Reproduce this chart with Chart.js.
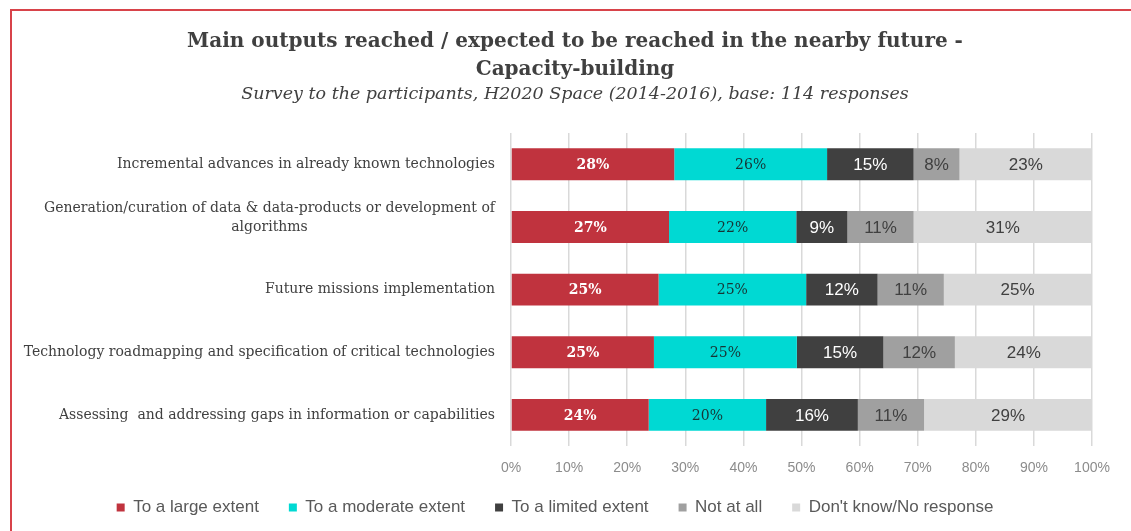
<!DOCTYPE html>
<html>
<head>
<meta charset="utf-8">
<title>Main outputs - Capacity-building</title>
<script src="https://cdn.jsdelivr.net/npm/chart.js@4.4.0/dist/chart.umd.min.js"></script>
<style>
  body { margin: 0; background: #fff; }
  #frame { position: absolute; left: 10px; top: 9px; width: 1140px; height: 540px; border: 2px solid #d8434a; }
  #wrap { position: absolute; left: 0; top: 0; width: 1131px; height: 531px; }
</style>
</head>
<body>
<div id="frame"></div>
<div id="wrap"><canvas id="myChart"></canvas></div>
<script>
// share of the 114 responses, in %
const categories = [
  ['Incremental advances in already known technologies'],
  ['Generation/curation of data & data-products or development of', 'algorithms'],
  ['Future missions implementation'],
  ['Technology roadmapping and specification of critical technologies'],
  ['Assessing  and addressing gaps in information or capabilities']
];
const largeExtent    = [28.1, 27.2, 25.4, 24.6, 23.7];
const moderateExtent = [26.3, 21.9, 25.4, 24.6, 20.2];
const limitedExtent  = [14.9,  8.8, 12.3, 14.9, 15.8];
const notAtAll       = [ 7.9, 11.4, 11.4, 12.3, 11.4];
const dontKnow       = [22.8, 30.7, 25.4, 23.7, 28.9];

const xTicks = [0, 10, 20, 30, 40, 50, 60, 70, 80, 90, 100];

const SERIF = '"DejaVu Serif", "Liberation Serif", serif';
const SANS = '"Liberation Sans", Arial, sans-serif';

const data = {
  labels: categories,
  datasets: [{
    label: 'To a large extent',
    backgroundColor: '#c0333e',
    data: largeExtent,
    valueFont: 'bold 14px ' + SERIF,
    valueColor: '#ffffff'
  },
  {
    label: 'To a moderate extent',
    backgroundColor: '#00d9d3',
    data: moderateExtent,
    valueFont: '14px ' + SERIF,
    valueColor: '#173434'
  },
  {
    label: 'To a limited extent',
    backgroundColor: '#404040',
    data: limitedExtent,
    valueFont: '17px ' + SANS,
    valueColor: '#ffffff'
  },
  {
    label: 'Not at all',
    backgroundColor: '#a0a0a0',
    data: notAtAll,
    valueFont: '17px ' + SANS,
    valueColor: '#404040'
  },
  {
    label: "Don't know/No response",
    backgroundColor: '#d9d9d9',
    data: dontKnow,
    valueFont: '17px ' + SANS,
    valueColor: '#404040'
  }]
};

// percentage written in the middle of each segment
const segmentLabels = {
  id: 'segmentLabels',
  afterDatasetsDraw(chart) {
    const ctx = chart.ctx;
    ctx.save();
    ctx.textAlign = 'center';
    ctx.textBaseline = 'middle';
    chart.data.datasets.forEach((ds, i) => {
      chart.getDatasetMeta(i).data.forEach((bar, j) => {
        ctx.font = ds.valueFont;
        ctx.fillStyle = ds.valueColor;
        ctx.fillText(Math.round(ds.data[j]) + '%', (bar.x + bar.base) / 2, bar.y + 1);
      });
    });
    ctx.restore();
  }
};

// category names: right aligned block, lines centred inside it
const categoryLabels = {
  id: 'categoryLabels',
  afterDraw(chart) {
    const ctx = chart.ctx;
    const y = chart.scales.y;
    const right = chart.chartArea.left - 16;
    ctx.save();
    ctx.font = '14px ' + SERIF;
    ctx.fillStyle = '#404040';
    ctx.textAlign = 'center';
    ctx.textBaseline = 'middle';
    categories.forEach((lines, i) => {
      const w = Math.max(...lines.map(l => ctx.measureText(l).width));
      const cy = y.getPixelForValue(i);
      lines.forEach((l, k) => {
        ctx.fillText(l, right - w / 2, cy - (lines.length - 1 - k) * 19);
      });
    });
    ctx.restore();
  }
};

// legend sits a little left of the titles and tucked up under the axis
const legendShift = {
  id: 'legendShift',
  afterLayout(chart) {
    const lg = chart.legend;
    lg.left -= 20;
    lg.right -= 20;
    lg.top -= 22;
    lg.bottom -= 22;
  }
};

const config = {
  type: 'bar',
  data: data,
  plugins: [segmentLabels, categoryLabels, legendShift],
  options: {
    indexAxis: 'y',
    responsive: true,
    maintainAspectRatio: false,
    animation: false,
    barPercentage: 0.51,
    categoryPercentage: 1,
    layout: { padding: { left: 58, right: 39, top: 0, bottom: -17 } },
    plugins: {
      title: {
        display: true,
        text: ['Main outputs reached / expected to be reached in the nearby future -', 'Capacity-building'],
        color: '#404040',
        font: { family: SERIF, size: 20, weight: 'bold', lineHeight: 1.4 },
        padding: { top: 28, bottom: 0 }
      },
      subtitle: {
        display: true,
        text: 'Survey to the participants, H2020 Space (2014-2016), base: 114 responses',
        color: '#404040',
        font: { family: SERIF, size: 17.5, style: 'italic', lineHeight: 1.143 },
        padding: { top: 0, bottom: 29 }
      },
      legend: {
        position: 'bottom',
        labels: {
          boxWidth: 8,
          boxHeight: 8,
          padding: 30,
          color: '#595959',
          font: { family: SANS, size: 17 }
        }
      },
      tooltip: { enabled: false }
    },
    scales: {
      x: {
        stacked: true,
        min: 0,
        max: 100,
        afterBuildTicks(scale) {
          scale.ticks = xTicks.map(v => ({ value: v }));
        },
        ticks: {
          padding: 14,
          color: '#8c8c8c',
          font: { family: SANS, size: 14 },
          callback: function(value) {
            return value + '%';
          }
        },
        grid: { color: '#d9d9d9', lineWidth: 1.5, drawTicks: false },
        border: { display: false }
      },
      y: {
        stacked: true,
        afterFit(scale) {
          scale.width = 453;
        },
        ticks: { display: false },
        grid: { display: false },
        border: { display: false }
      }
    }
  }
};

const myChart = new Chart(
  document.getElementById('myChart'),
  config,
);
</script>
</body>
</html>
